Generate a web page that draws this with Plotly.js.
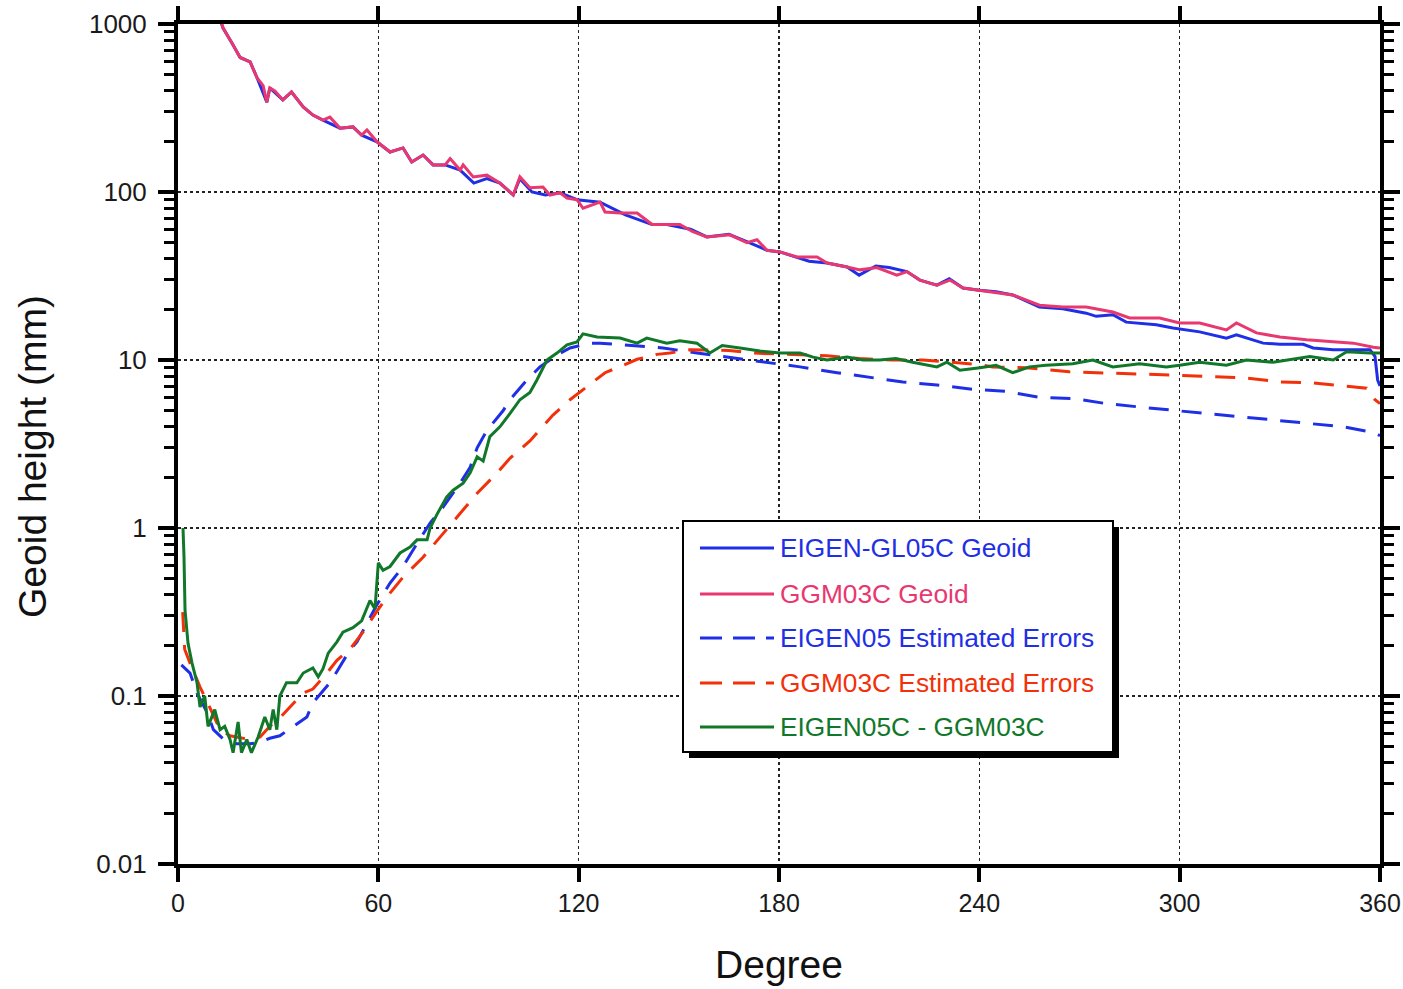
<!DOCTYPE html>
<html>
<head>
<meta charset="utf-8">
<script src="https://cdn.plot.ly/plotly-3.0.1.min.js"></script>
<style>
  html, body { margin: 0; padding: 0; background: #ffffff; }
  #chart { width: 1403px; height: 989px; }
</style>
</head>
<body>
<div id="chart"></div>
<script>
// Degree variances of geoid heights (mm) versus spherical-harmonic degree

// GGM03C geoid signal
const ggmGeoidDeg = [12, 13.5, 16.5, 18.6, 21.6, 23.7, 25.5, 26.6, 27.5, 29, 31.4, 34, 37.5, 40.4, 43.4, 45.5, 48.5, 52.4, 55, 56.6, 59.6, 63.5, 67.4, 70, 73.4, 76.4, 80, 81.5, 84.5, 85.4, 88.4, 92.5, 96.4, 100.4, 102.4, 105.4, 109.3, 111.4, 114.4, 116.5, 119.5, 121.3, 126.4, 127.9, 132.4, 137.5, 142, 146.4, 150.3, 154.2, 158.4, 165.3, 170.4, 173.4, 176.4, 180.3, 185.4, 191.4, 194.4, 200.4, 204.3, 209.3, 215.3, 218.3, 222.2, 227.3, 231.2, 235.1, 240.2, 245.3, 250, 258, 265, 272, 280, 285, 294, 300, 306, 314, 317, 323, 330, 338, 346, 352, 358, 360];
const ggmGeoidVal = [1150, 946, 750, 632, 594, 477, 430, 343, 417, 400, 353, 394, 321, 287, 268, 279, 240, 244, 218, 234, 199, 173, 183, 151, 166, 145, 145, 158, 135, 145, 123, 126, 113, 96, 123, 106, 107, 96, 99, 92, 90, 80, 87, 76, 75, 75, 64, 64, 64, 58, 54, 55.6, 50, 52, 45, 44, 41, 41, 37.8, 35.8, 34.4, 35.5, 32, 33.6, 29.9, 27.9, 29.9, 26.8, 26, 25, 24.4, 21.2, 20.7, 20.7, 19.3, 17.8, 17.8, 16.6, 16.6, 15.1, 16.6, 14.5, 13.7, 13.2, 12.8, 12.6, 11.9, 11.8];

// EIGEN-GL05C geoid signal
const eigenGeoidDeg = [12, 13.5, 16.5, 18.6, 21.6, 23.7, 26.6, 27.5, 31.4, 34, 37.5, 40.4, 43.4, 48.5, 52.4, 55, 59.6, 63.5, 67.4, 70, 73.4, 76.4, 80, 84.5, 88.6, 92.5, 96.4, 100.4, 102.4, 106, 110, 114.4, 119.5, 126.4, 134, 142, 146.4, 153.5, 158.4, 165, 170, 176.4, 180.3, 185.4, 189, 194.4, 200.4, 204, 209, 213, 218.3, 222.2, 227.3, 231, 235.1, 240, 245, 250, 258, 265, 272, 275, 280, 284, 288, 293, 298, 306, 314, 317, 325, 330, 337, 340, 346, 352, 357, 358.5, 359.3, 360];
const eigenGeoidVal = [1150, 946, 750, 632, 594, 477, 343, 417, 353, 394, 321, 287, 268, 240, 244, 218, 199, 173, 183, 151, 166, 145, 145, 135, 113, 120, 113, 96, 120, 100, 96, 99, 90, 87, 73, 64, 64, 60, 54, 56, 51, 45, 44, 41, 38.7, 37.8, 35.8, 32, 36.3, 35.5, 33.6, 29.9, 27.9, 30.5, 26.8, 26, 25.5, 24.4, 20.7, 20.2, 19, 18.2, 18.6, 16.8, 16.6, 16.2, 15.5, 14.7, 13.5, 14.1, 12.6, 12.4, 12.4, 11.8, 11.5, 11.5, 11.5, 10.5, 7.6, 7.0];

// EIGEN05 estimated errors
const eigenErrDeg = [1, 3.6, 5.7, 8.7, 10.6, 14.6, 17.6, 21.6, 24.6, 27.5, 30.5, 33.5, 38.6, 40.4, 45.5, 47.6, 51.5, 53.6, 57.5, 59.6, 63.5, 67.4, 71.6, 75.5, 79.4, 84.5, 87.5, 89.6, 92.5, 97.4, 99.4, 104.5, 108.4, 113.5, 117.4, 123.4, 126.4, 135.4, 145.3, 155.4, 166.2, 177.3, 186.3, 197.4, 206.3, 217.1, 227.3, 238, 248, 258, 268, 278, 288, 298, 308, 318, 328, 339, 349, 358, 360];
const eigenErrVal = [0.153, 0.137, 0.104, 0.08, 0.063, 0.053, 0.052, 0.052, 0.053, 0.056, 0.058, 0.064, 0.075, 0.091, 0.12, 0.14, 0.188, 0.21, 0.295, 0.35, 0.47, 0.59, 0.81, 1.07, 1.33, 1.85, 2.3, 3.0, 3.8, 5.0, 5.8, 7.6, 9.1, 10.7, 11.8, 12.6, 12.6, 12.2, 11.8, 11.0, 10.3, 9.6, 9.1, 8.4, 7.9, 7.4, 7.1, 6.7, 6.5, 6.0, 5.9, 5.5, 5.25, 5.0, 4.8, 4.6, 4.4, 4.2, 4.0, 3.7, 3.55];

// GGM03C estimated errors
const ggmErrDeg = [1.4, 2, 3.6, 6.6, 10.2, 12.6, 15.6, 19.6, 21.6, 24.6, 27.5, 30.5, 33.5, 37.4, 40.4, 44.6, 47.6, 51.5, 55.4, 59.6, 63.5, 67.4, 73.4, 79.4, 84.5, 89.6, 95.5, 99.4, 105.4, 112.3, 117.4, 121.9, 127.9, 133.3, 137.5, 143.5, 147.3, 153.3, 160.2, 165, 172, 186, 194.4, 204, 214, 223, 235, 240, 244, 254, 267, 277, 287, 297, 308, 320, 330, 340, 349, 356, 358.5, 360];
const ggmErrVal = [0.316, 0.19, 0.157, 0.113, 0.08, 0.063, 0.058, 0.056, 0.055, 0.057, 0.066, 0.074, 0.086, 0.104, 0.11, 0.137, 0.163, 0.19, 0.24, 0.32, 0.41, 0.51, 0.67, 0.93, 1.21, 1.61, 2.12, 2.6, 3.3, 4.7, 5.8, 6.8, 8.4, 9.3, 10.1, 10.8, 11, 11.5, 11.5, 11.4, 11, 10.8, 10.6, 10.2, 10, 10, 9.6, 9.4, 9.1, 9.0, 8.5, 8.4, 8.3, 8.15, 8.0, 7.8, 7.4, 7.3, 7.0, 6.8, 5.8, 5.5];

// Difference EIGEN05C - GGM03C
const diffDeg = [1.5, 1.8, 2.1, 3, 4.2, 5.7, 6.6, 8, 9, 11, 12.6, 14, 15.6, 16.5, 18, 19, 20.6, 22, 24, 26, 27.5, 28.5, 29.6, 30.5, 32.5, 35.6, 37.5, 40.4, 42, 43.4, 45, 47.6, 49.4, 52.4, 55, 57.5, 59, 60, 61.4, 63.5, 66.5, 69.5, 71.6, 74.6, 75.5, 77.6, 80.5, 82.4, 85.4, 87.5, 89.6, 91.4, 93.4, 96.4, 99.4, 102.4, 105.4, 107.5, 110.5, 113.5, 116.5, 119.5, 121.3, 125.5, 132.4, 137.5, 140.4, 146.4, 150.3, 155.4, 159.3, 163, 168.3, 174.3, 180.3, 186.3, 190.2, 194.4, 200.4, 205.2, 210.2, 215, 220, 227.3, 230.3, 234.2, 240.2, 245, 250, 255, 260, 268, 274, 280, 288, 296, 300, 306, 314, 320, 328, 336, 339, 346, 350, 357, 360];
const diffVal = [1.0, 0.67, 0.325, 0.206, 0.157, 0.12, 0.086, 0.1, 0.066, 0.083, 0.063, 0.066, 0.055, 0.046, 0.07, 0.046, 0.055, 0.046, 0.057, 0.075, 0.063, 0.083, 0.063, 0.1, 0.12, 0.12, 0.137, 0.147, 0.13, 0.145, 0.18, 0.21, 0.24, 0.255, 0.28, 0.37, 0.33, 0.62, 0.56, 0.59, 0.71, 0.77, 0.85, 0.85, 1.0, 1.21, 1.53, 1.68, 1.85, 2.13, 2.65, 2.5, 3.5, 4.0, 4.8, 5.8, 6.4, 7.6, 10, 11, 12.3, 12.8, 14.3, 13.7, 13.5, 12.6, 13.5, 12.6, 13.0, 12.6, 11.0, 12.2, 11.8, 11.3, 11, 11, 10.4, 10, 10.4, 10, 10, 10.2, 9.7, 9.1, 9.7, 8.7, 9.0, 9.3, 8.4, 9.1, 9.3, 9.5, 10, 9.1, 9.5, 9.1, 9.3, 9.7, 9.3, 10, 9.7, 10.3, 10.5, 10, 11.2, 11, 11];

// Axis ticks
const xTicks = [0, 60, 120, 180, 240, 300, 360];
const yTicks = [0.01, 0.1, 1, 10, 100, 1000];
const yTickText = ['0.01', '0.1', '1', '10', '100', '1000'];

// Axis titles
const xTitle = 'Degree';
const yTitle = 'Geoid height (mm)';

// Series names and styles (key order)
const seriesNames = ['EIGEN-GL05C Geoid', 'GGM03C Geoid', 'EIGEN05 Estimated Errors', 'GGM03C Estimated Errors', 'EIGEN05C - GGM03C'];
const seriesColors = ['#1f2fe6', '#e8386f', '#1f2fe6', '#f2300a', '#11782a'];
const seriesDash = ['solid', 'solid', '20px,13px', '20px,13px', 'solid'];
const seriesX = [eigenGeoidDeg, ggmGeoidDeg, eigenErrDeg, ggmErrDeg, diffDeg];
const seriesY = [eigenGeoidVal, ggmGeoidVal, eigenErrVal, ggmErrVal, diffVal];

const FONT = 'Liberation Sans, Arial, Helvetica, sans-serif';

const traces = seriesNames.map((name, i) => ({
  type: 'scatter',
  mode: 'lines',
  name: name,
  x: seriesX[i],
  y: seriesY[i],
  line: { color: seriesColors[i], width: 3, dash: seriesDash[i], shape: 'linear' },
  showlegend: false,
  hoverinfo: 'x+y+name'
}));

// Plot area in page pixels, used to place the boxed key and the y title
const W = 1403, H = 989;
const M = { l: 178, r: 23, t: 24, b: 125 };
const PW = W - M.l - M.r, PH = H - M.t - M.b;
const px = x => (x - M.l) / PW;
const py = y => (H - M.b - y) / PH;

const shapes = [];
const annotations = [];

// Key box with drop shadow
shapes.push({ type: 'rect', xref: 'paper', yref: 'paper', layer: 'above',
  x0: px(689), x1: px(1119), y0: py(758), y1: py(527),
  fillcolor: '#000000', line: { width: 0 } });
shapes.push({ type: 'rect', xref: 'paper', yref: 'paper', layer: 'above',
  x0: px(683), x1: px(1113), y0: py(752), y1: py(521),
  fillcolor: '#ffffff', line: { color: '#000000', width: 2 } });

const keyRows = [548, 594, 638, 683, 727];
seriesNames.forEach((name, i) => {
  const yy = py(keyRows[i]);
  shapes.push({ type: 'line', xref: 'paper', yref: 'paper', layer: 'above',
    x0: px(700), x1: px(774), y0: yy, y1: yy,
    line: { color: seriesColors[i], width: 3, dash: seriesDash[i] === 'solid' ? 'solid' : '22px,11px' } });
  annotations.push({ xref: 'paper', yref: 'paper', x: px(778), y: yy,
    xanchor: 'left', yanchor: 'middle', showarrow: false, text: name,
    font: { family: FONT, size: 26.3, color: seriesColors[i] } });
});

// Vertical axis title, set further out than the axis would place it
annotations.push({ xref: 'paper', yref: 'paper', x: px(33), y: py(457),
  xanchor: 'center', yanchor: 'middle', showarrow: false, textangle: -90,
  text: yTitle, font: { family: FONT, size: 39, color: '#111' } });

const layout = {
  width: W, height: H,
  margin: M,
  paper_bgcolor: '#ffffff',
  plot_bgcolor: '#ffffff',
  font: { family: FONT, color: '#1a1a1a' },
  showlegend: false,
  xaxis: {
    range: [0, 360],
    tickmode: 'array', tickvals: xTicks,
    ticks: 'outside', ticklen: 14, tickwidth: 4, tickcolor: '#000',
    showline: true, linewidth: 4, linecolor: '#000', mirror: 'ticks',
    showgrid: true, gridcolor: '#222', gridwidth: 1.5, griddash: 'dot',
    zeroline: false,
    tickfont: { family: FONT, size: 25, color: '#1a1a1a' },
    title: { text: xTitle, font: { family: FONT, size: 39, color: '#111' }, standoff: 36 }
  },
  yaxis: {
    type: 'log',
    range: [-2, 3],
    tickmode: 'array', tickvals: yTicks, ticktext: yTickText,
    ticks: 'outside', ticklen: 16, tickwidth: 4, tickcolor: '#000',
    ticklabelstandoff: 6,
    minor: { dtick: 'D1', ticks: 'outside', ticklen: 10, tickwidth: 3, tickcolor: '#000', showgrid: false },
    showline: true, linewidth: 4, linecolor: '#000', mirror: 'ticks',
    showgrid: true, gridcolor: '#222', gridwidth: 1.5, griddash: 'dot',
    zeroline: false,
    tickfont: { family: FONT, size: 26, color: '#1a1a1a' }
  },
  shapes: shapes,
  annotations: annotations
};

Plotly.newPlot('chart', traces, layout, { displayModeBar: false, staticPlot: true });
</script>
</body>
</html>
